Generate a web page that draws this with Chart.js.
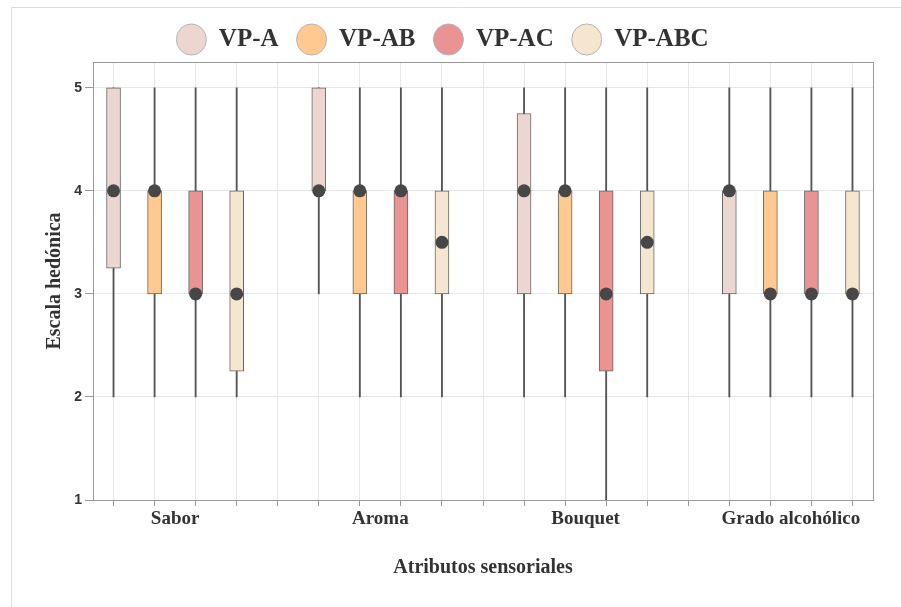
<!DOCTYPE html>
<html>
<head>
<meta charset="utf-8">
<script src="https://cdn.jsdelivr.net/npm/chart.js@4"></script>
<style>
  html, body { margin: 0; padding: 0; background: #fff; }
  canvas { display: block; }
</style>
</head>
<body>
<canvas id="chart" width="901" height="607"></canvas>
<script>
// attributes on the x axis
const categories = ['Sabor', 'Aroma', 'Bouquet', 'Grado alcohólico'];
const seriesNames = ['VP-A', 'VP-AB', 'VP-AC', 'VP-ABC'];
const seriesColors = ['#ecd6d1', '#ffc98f', '#e99393', '#f6e6cf'];

// box plot stats, one row per series, one column per category
const whiskerLow = [
  [2, 3, 2, 2],
  [2, 2, 2, 2],
  [2, 2, 1, 2],
  [2, 2, 2, 2]
];
const boxLow = [
  [3.25, 4, 3, 3],
  [3, 3, 3, 3],
  [3, 3, 2.25, 3],
  [2.25, 3, 3, 3]
];
const medians = [
  [4, 4, 4, 4],
  [4, 4, 4, 3],
  [3, 4, 3, 3],
  [3, 3.5, 3.5, 3]
];
const boxHigh = [
  [5, 5, 4.75, 4],
  [4, 4, 4, 4],
  [4, 4, 4, 4],
  [4, 4, 4, 4]
];
const whiskerHigh = [
  [5, 5, 5, 5],
  [5, 5, 5, 5],
  [5, 5, 5, 5],
  [5, 5, 5, 5]
];
const yTicks = [1, 2, 3, 4, 5];

// slot on the x axis: 4 boxes per category plus one empty slot between groups
const slotOf = (c, s) => c * 5 + s;
const labelSlots = categories.map((_, c) => c * 5 + 1.5);

const serif = '"Liberation Serif", "Times New Roman", serif';

const boxSets = seriesNames.map((name, s) => ({
  label: name,
  type: 'bar',
  order: 1,
  data: categories.map((_, c) => ({ x: slotOf(c, s), y: [boxLow[s][c], boxHigh[s][c]] })),
  backgroundColor: seriesColors[s],
  borderColor: '#666',
  borderWidth: 1,
  borderSkipped: false,
  barThickness: 14,
  grouped: false
}));

const whiskerSet = {
  label: 'whiskers',
  type: 'bar',
  order: 2,
  data: seriesNames.flatMap((_, s) => categories.map((_, c) => ({ x: slotOf(c, s), y: [whiskerLow[s][c], whiskerHigh[s][c]] }))),
  backgroundColor: '#555',
  borderWidth: 0,
  barThickness: 1.2,
  grouped: false
};

const medianSet = {
  label: 'median',
  type: 'scatter',
  order: 0,
  data: seriesNames.flatMap((_, s) => categories.map((_, c) => ({ x: slotOf(c, s), y: medians[s][c] }))),
  backgroundColor: '#474747',
  borderWidth: 0,
  pointRadius: 6.5,
  pointHoverRadius: 6.5
};

// frame round the plot area and the faint page border
const framePlugin = {
  id: 'frame',
  beforeDraw(chart) {
    const ctx = chart.ctx;
    ctx.save();
    ctx.strokeStyle = '#dcdcdc';
    ctx.lineWidth = 1;
    ctx.beginPath();
    ctx.moveTo(11.5, 607);
    ctx.lineTo(11.5, 7.5);
    ctx.lineTo(901, 7.5);
    ctx.stroke();
    ctx.restore();
  },
  afterDatasetsDraw(chart) {
    const { ctx, chartArea: a } = chart;
    ctx.save();
    ctx.strokeStyle = '#999';
    ctx.lineWidth = 1;
    ctx.strokeRect(Math.round(a.left) + 0.5, Math.round(a.top) + 0.5,
      Math.round(a.right - a.left), Math.round(a.bottom - a.top));
    ctx.restore();
  }
};

new Chart(document.getElementById('chart'), {
  type: 'bar',
  data: { datasets: [...boxSets, whiskerSet, medianSet] },
  plugins: [framePlugin],
  options: {
    responsive: false,
    animation: false,
    layout: { padding: { left: 12, right: 28, top: 9, bottom: 23 } },
    plugins: {
      tooltip: { enabled: false },
      legend: {
        position: 'top',
        labels: {
          usePointStyle: true,
          pointStyle: 'circle',
          pointStyleWidth: 30,
          boxHeight: 22,
          padding: 18,
          color: '#333',
          font: { family: serif, size: 25, weight: 'bold' },
          generateLabels(chart) {
            const items = Chart.defaults.plugins.legend.labels.generateLabels(chart);
            return items
              .filter(i => i.datasetIndex < seriesNames.length)
              .map(i => ({ ...i, strokeStyle: '#b4b4b4', lineWidth: 1 }));
          }
        }
      }
    },
    scales: {
      x: {
        type: 'linear',
        min: -0.5,
        max: 18.5,
        offset: false,
        afterBuildTicks(scale) {
          const vals = [];
          for (let i = 0; i <= 18; i++) vals.push(i);
          scale.ticks = vals.concat(labelSlots).sort((a, b) => a - b).map(v => ({ value: v }));
        },
        afterFit(scale) { scale.height = 84; },
        ticks: {
          autoSkip: false,
          maxRotation: 0,
          padding: 2,
          color: '#333',
          font: { family: serif, size: 19, weight: 'bold' },
          callback(v) {
            const i = labelSlots.indexOf(v);
            return i >= 0 ? categories[i] : '';
          }
        },
        grid: {
          offset: false,
          color: c => (c.tick && c.tick.value % 1 !== 0) ? 'rgba(0,0,0,0)' : '#e6e6e6',
          tickColor: c => (c.tick && c.tick.value % 1 !== 0) ? 'rgba(0,0,0,0)' : '#999',
          tickLength: 6
        },
        border: { color: '#999' },
        title: {
          display: true,
          text: 'Atributos sensoriales',
          color: '#333',
          font: { family: serif, size: 20, weight: 'bold' }
        }
      },
      y: {
        min: 1,
        max: 5.25,
        afterBuildTicks(scale) {
          scale.ticks = yTicks.map(v => ({ value: v }));
        },
        afterFit(scale) { scale.width = 81; },
        ticks: {
          color: '#333',
          padding: 3,
          font: { family: '"Liberation Sans", Arial, sans-serif', size: 14, weight: 'bold' }
        },
        grid: { color: '#e6e6e6', tickColor: '#999', tickLength: 8 },
        border: { color: '#999' },
        title: {
          display: true,
          text: 'Escala hedónica',
          padding: { top: 31, bottom: 4 },
          color: '#333',
          font: { family: serif, size: 20, weight: 'bold' }
        }
      }
    }
  }
});
</script>
</body>
</html>
